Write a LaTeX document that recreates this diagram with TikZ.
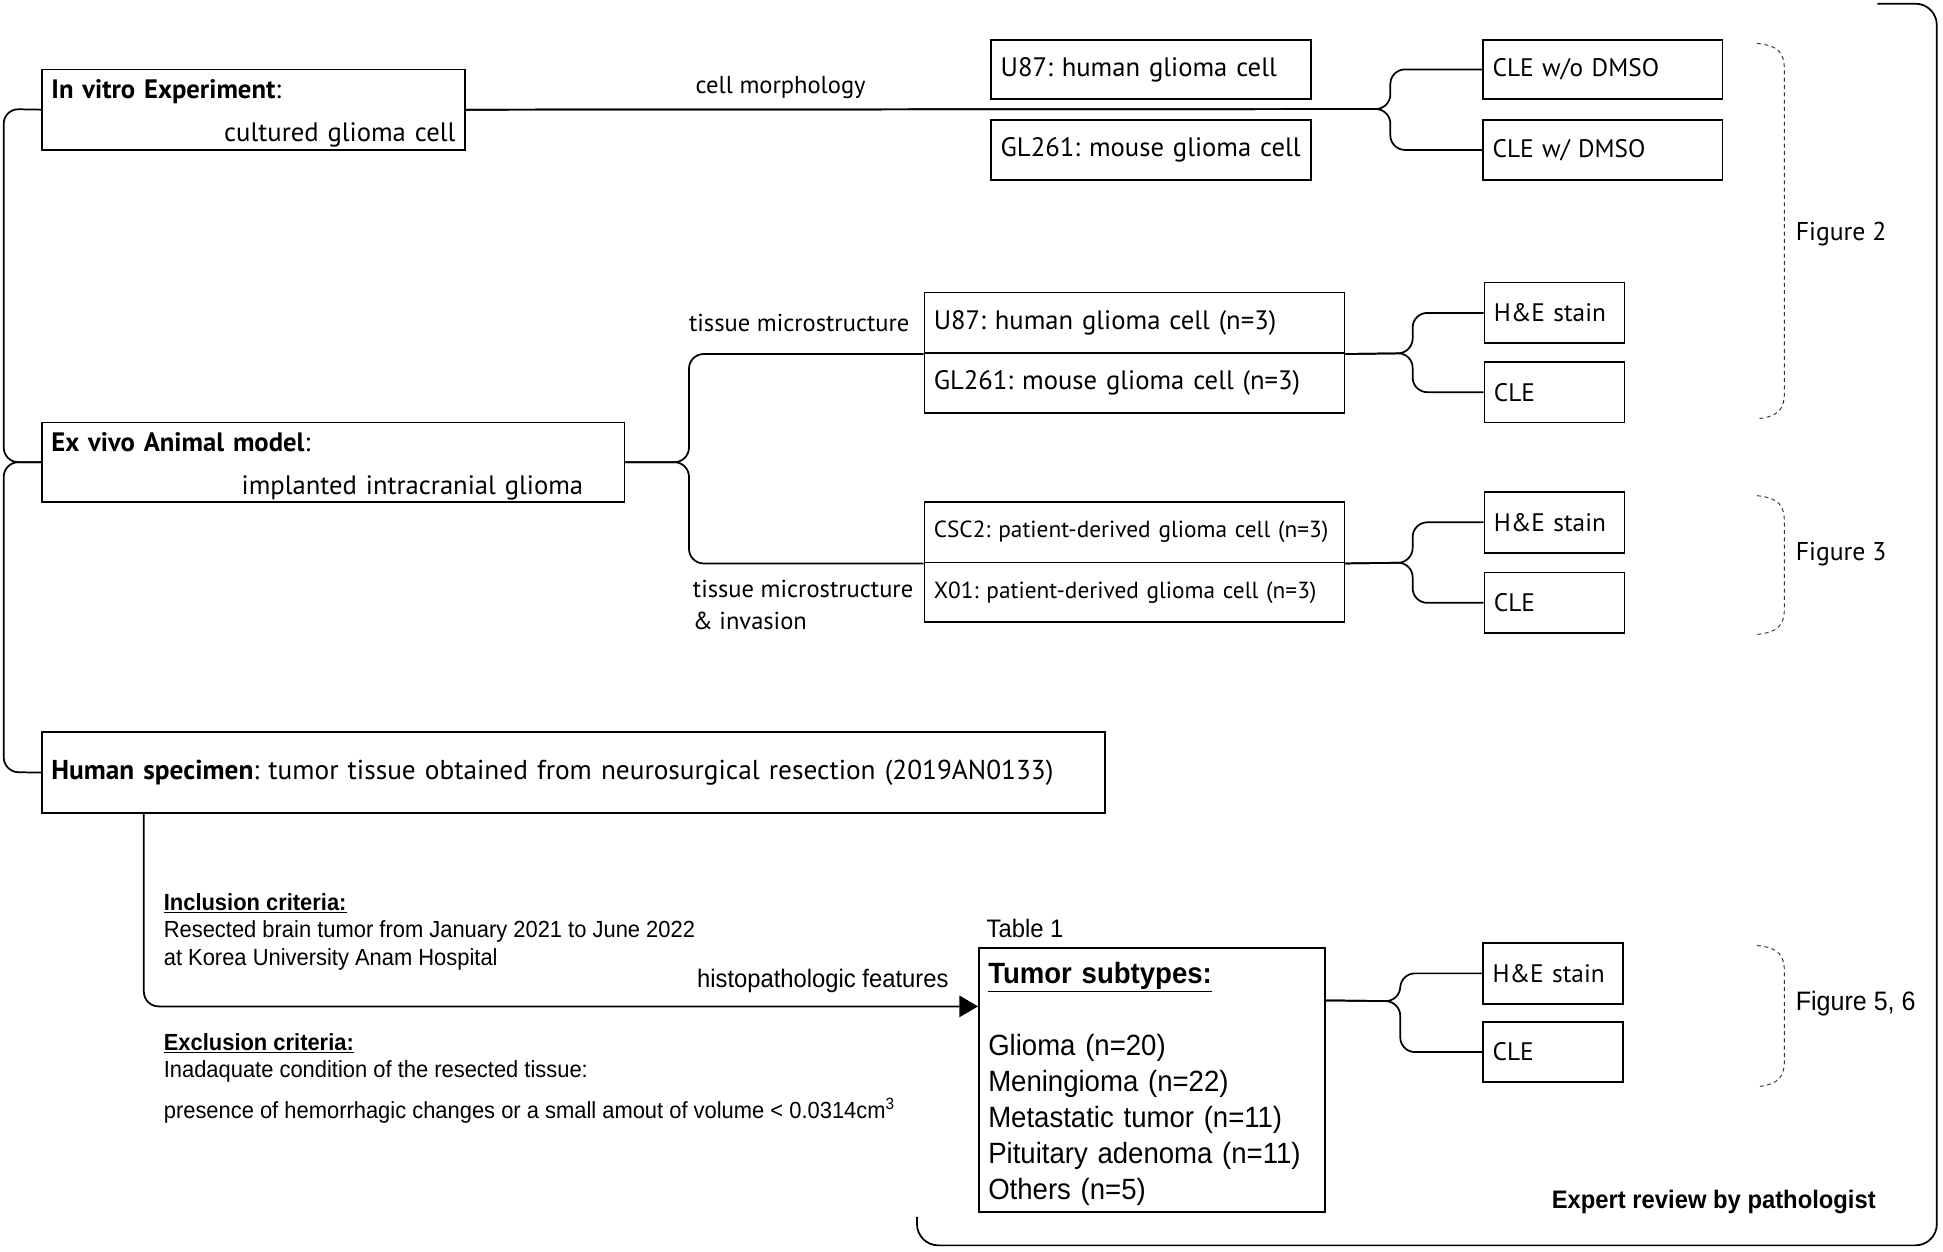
\documentclass[tikz,border=0pt]{standalone}
\usepackage{fontspec}
\setmainfont{PT Sans}
\newfontfamily\arialn[FakeStretch=0.94]{Liberation Sans}
\usetikzlibrary{arrows.meta}
\frenchspacing
\newcommand\mybox[7][]{\node[boxst, #1, minimum width={(#5-#3)*0.93pt}, minimum height={(#6-#4)*0.93pt}, text width={(#5-#3)*0.93pt-14pt}] (#2) at ({(#3+#5)/2},{(#4+#6)/2}) {#7};}
\newcommand\dbrace[3]{\draw[dbr] (1418,#1) .. controls (1436,{#1+2}) and (1440,{#1+8}) .. (1440,{#1+22}) -- (1440,{#2-22}) .. controls (1440,{#2-8}) and (1436,{#2-2}) .. (1418,#2);
  \node[figlbl] (#3) at (1449,{(#1+#2)/2}) {};}
\begin{document}
\begin{tikzpicture}[x=0.93pt,y=-0.93pt,
  boxst/.style={draw, line width=1.3pt, inner xsep=7pt, inner ysep=0pt, align=left, font=\fontsize{20}{24}\selectfont},
  small/.style={font=\fontsize{19}{23}\selectfont},
  conn/.style={line width=1.3pt, rounded corners=11pt},
  dbr/.style={line width=0.7pt, black!80, dash pattern=on 3pt off 2.5pt},
  figlbl/.style={inner sep=0pt},
  lbl/.style={inner sep=0pt, font=\fontsize{18.4}{22}\selectfont},
  crit/.style={inner sep=0pt, align=left, font=\arialn\fontsize{17.5}{20.5}\selectfont}]
\useasboundingbox (0,0) rectangle (1568,1010);

% boxes
\mybox{vitro}{34}{56}{375}{121}{\rule{0pt}{20pt}\textbf{In vitro Experiment}:\\[8pt] \hfill cultured glioma cell}
\mybox{u87a}{800}{32}{1058}{80}{U87: human glioma cell}
\mybox{gla}{800}{97}{1058}{145}{GL261: mouse glioma cell}
\mybox[small]{clewo}{1197}{32}{1390}{80}{CLE w/o DMSO}
\mybox[small]{clew}{1197}{97}{1390}{145}{CLE w/ DMSO}

\mybox{exvivo}{34}{341}{504}{405}{\rule{0pt}{20pt}\textbf{Ex vivo Animal model}:\\[8pt] \hfill implanted intracranial glioma\rule{24pt}{0pt}}
\mybox{u87b}{746}{236}{1085}{285}{U87: human glioma cell (n=3)}
\mybox{glb}{746}{285}{1085}{333}{GL261: mouse glioma cell (n=3)}
\mybox[small]{he1}{1198}{228}{1311}{277}{H\&E stain}
\mybox[small]{cle1}{1198}{292}{1311}{341}{CLE}

\mybox[font=\fontsize{17.5}{20}\selectfont]{csc}{746}{405}{1085}{454}{CSC2: patient-derived glioma cell (n=3)}
\mybox[font=\fontsize{17.5}{20}\selectfont]{xo}{746}{454}{1085}{502}{X01: patient-derived glioma cell (n=3)}
\mybox[small]{he2}{1198}{397}{1311}{446}{H\&E stain}
\mybox[small]{cle2}{1198}{462}{1311}{511}{CLE}

\mybox[font=\fontsize{20.5}{24}\selectfont]{human}{34}{591}{892}{656}{\textbf{Human specimen}: tumor tissue obtained from neurosurgical resection (2019AN0133)}

\mybox[font=\arialn\fontsize{22}{27}\selectfont]{tumor}{790}{765}{1069}{978}{\rule{0pt}{22pt}\textbf{\underline{Tumor subtypes:}}\\ \mbox{}\\ Glioma (n=20)\\ Meningioma (n=22)\\ Metastatic tumor (n=11)\\ Pituitary adenoma (n=11)\\ Others (n=5)}
\mybox[small]{he3}{1197}{761}{1310}{810}{H\&E stain}
\mybox[small]{cle3}{1197}{825}{1310}{873}{CLE}

% connectors
\draw[conn] (vitro.east) -- (1122,88) |- (clewo.west);
\draw[conn] (vitro.east) -- (1122,88) |- (clew.west);
\draw[conn] (vitro.west) -- (3,88) -- (3,373) -- (exvivo.west);
\draw[conn] (exvivo.west) -- (3,373) -- (3,623) -- (human.west);
\draw[conn] (exvivo.east) -- (556,373) |- (u87b.south west);
\draw[conn] (exvivo.east) -- (556,373) |- (csc.south west);
\draw[conn] (u87b.south east) -- (1140,285) |- (he1.west);
\draw[conn] (u87b.south east) -- (1140,285) |- (cle1.west);
\draw[conn] (csc.south east) -- (1140,454) |- (he2.west);
\draw[conn] (csc.south east) -- (1140,454) |- (cle2.west);
\draw[conn] ([yshift=-40pt]tumor.north east) -- (1130,808) |- (he3.west);
\draw[conn] ([yshift=-40pt]tumor.north east) -- (1130,808) |- (cle3.west);
\draw[conn, -{Triangle[length=14pt,width=16pt]}] ([xshift=77pt]human.south west) |- ([yshift=-44.5pt]tumor.north west);

% outer bracket
\coordinate (otop) at (1515,3);
\coordinate (obot) at (740,982);
\draw[line width=1.3pt, rounded corners=16pt] (otop) -- (1563,3) -- (1563,1005) -- (740,1005) -- (obot);

% dashed braces
\dbrace{35}{338}{f2}
\dbrace{400}{512}{f3}
\dbrace{763}{877}{f56}
\node[lbl, anchor=west, font=\fontsize{19.3}{23}\selectfont] (fig2) at (1449,189) {Figure 2};
\node[lbl, anchor=west, font=\fontsize{19.3}{23}\selectfont] (fig3) at (1449,447) {Figure 3};
\node[lbl, anchor=west, font=\arialn\fontsize{20}{24}\selectfont] (fig56) at (1449,810) {Figure 5, 6};

% labels
\node[lbl] (lcm) at (630,71) {cell morphology};
\node[lbl] (ltm) at (645,261) {tissue microstructure};
\node[lbl, align=left, anchor=west, font=\fontsize{18.4}{24}\selectfont] (ltmi) at (559,488) {tissue microstructure\\ \& invasion};
\node[lbl, font=\arialn\fontsize{19}{22}\selectfont] (lhf) at (664,792) {histopathologic features};
\node[lbl, anchor=west, font=\arialn\fontsize{19}{22}\selectfont] (ltab) at (796,749) {Table 1};
\node[crit, anchor=west] (incl) at (132,752) {\textbf{\underline{Inclusion criteria:}}\\ Resected brain tumor from January 2021 to June 2022\\ at Korea University Anam Hospital};
\node[crit, anchor=west] (excl) at (132,870) {\textbf{\underline{Exclusion criteria:}}\\ Inadaquate condition of the resected tissue:\\[10pt] presence of hemorrhagic changes or a small amout of volume < 0.0314cm\textsuperscript{3}};
\node[lbl, font=\arialn\bfseries\fontsize{19}{22}\selectfont] (expert) at (1383,970) {Expert review by pathologist};
\end{tikzpicture}
\end{document}
